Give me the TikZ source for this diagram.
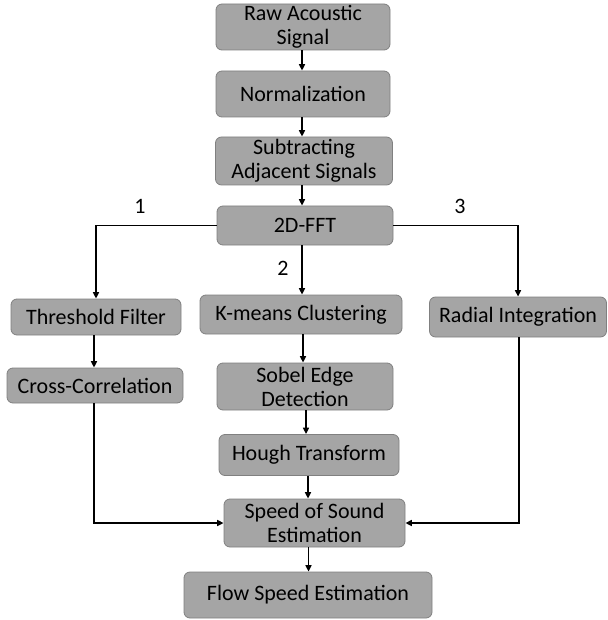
\documentclass[tikz,border=0pt]{standalone}
\usepackage{fontspec}
\setmainfont{Carlito}
\usetikzlibrary{arrows.meta,calc}
\definecolor{boxfill}{HTML}{A5A5A5}
\definecolor{boxline}{HTML}{808080}
\tikzset{
  stepbox/.style={draw=boxline, line width=0.8pt, fill=boxfill, rounded corners=6pt,
    inner sep=0pt, align=center, font=\fontsize{22}{24}\selectfont, text=black},
  arr/.style={line width=1.5pt, -{Triangle[length=6.5pt,width=6pt]}},
  lbl/.style={font=\fontsize{22}{24}\selectfont, text=black}
}
\begin{document}
\begin{tikzpicture}[x=1pt,y=-1pt]
\useasboundingbox (0,0) rectangle (607,620);
\node[stepbox, minimum width=174pt, minimum height=46pt] (raw) at (303,27) {Raw Acoustic\\Signal};
\node[stepbox, minimum width=174pt, minimum height=46pt] (norm) at (303,94) {Normalization};
\node[stepbox, minimum width=177pt, minimum height=48pt] (sub) at (304,161) {Subtracting\\Adjacent Signals};
\node[stepbox, minimum width=176pt, minimum height=39pt] (fft) at (305,225.5) {2D-FFT};
\node[stepbox, minimum width=170pt, minimum height=36pt] (thr) at (96,317) {Threshold Filter};
\node[stepbox, minimum width=176pt, minimum height=35pt] (cross) at (95,385.5) {Cross-Correlation};
\node[stepbox, minimum width=202pt, minimum height=39pt] (km) at (301,314.5) {K-means Clustering};
\node[stepbox, minimum width=176pt, minimum height=47pt] (sobel) at (305,386.5) {Sobel Edge\\Detection};
\node[stepbox, minimum width=177pt, minimum height=40pt] (rad) at (518,317) {Radial Integration};
\node[stepbox, minimum width=180pt, minimum height=41pt] (hough) at (309,455) {Hough Transform};
\node[stepbox, minimum width=181pt, minimum height=48pt] (speed) at (314.5,523) {Speed of Sound\\Estimation};
\node[stepbox, minimum width=248pt, minimum height=46pt] (flow) at (308,595) {Flow Speed Estimation};

\node[lbl] (l1) at (140,206) {1};
\node[lbl] (l2) at (283,268) {2};
\node[lbl] (l3) at (460,206) {3};

\draw[arr] ($(raw.south)+(-1,0)$) -- ($(raw.south |- norm.north)+(-1,0)$);
\draw[arr] ($(norm.south)+(-1,0)$) -- ($(norm.south |- sub.north)+(-1,0)$);
\draw[arr] ($(sub.south)+(-2,0)$) -- ($(sub.south |- fft.north)+(-2,0)$);
\draw[arr] ($(fft.south)+(-3,0)$) -- ($(fft.south |- km.north)+(-3,0)$);
\draw[arr] ($(km.south)+(2,0)$) -- ($(km.south |- sobel.north)+(2,0)$);
\draw[arr] ($(sobel.south)+(1,0)$) -- ($(sobel.south |- hough.north)+(1,0)$);
\draw[arr] ($(hough.south)+(-1,0)$) -- ($(hough.south |- speed.north)+(-1,0)$);
\draw[arr] ($(speed.south)+(-6,0)$) -- ($(speed.south |- flow.north)+(-6,0)$);
\draw[arr] (fft.west) -| (thr.north);
\draw[arr] (fft.east) -| (rad.north);
\draw[arr] ($(thr.south)+(-2,0)$) -- ($(thr.south |- cross.north)+(-2,0)$);
\draw[arr] ($(cross.south)+(-1,0)$) |- (speed.west);
\draw[arr] ($(rad.south)+(1,0)$) |- (speed.east);
\end{tikzpicture}
\end{document}
